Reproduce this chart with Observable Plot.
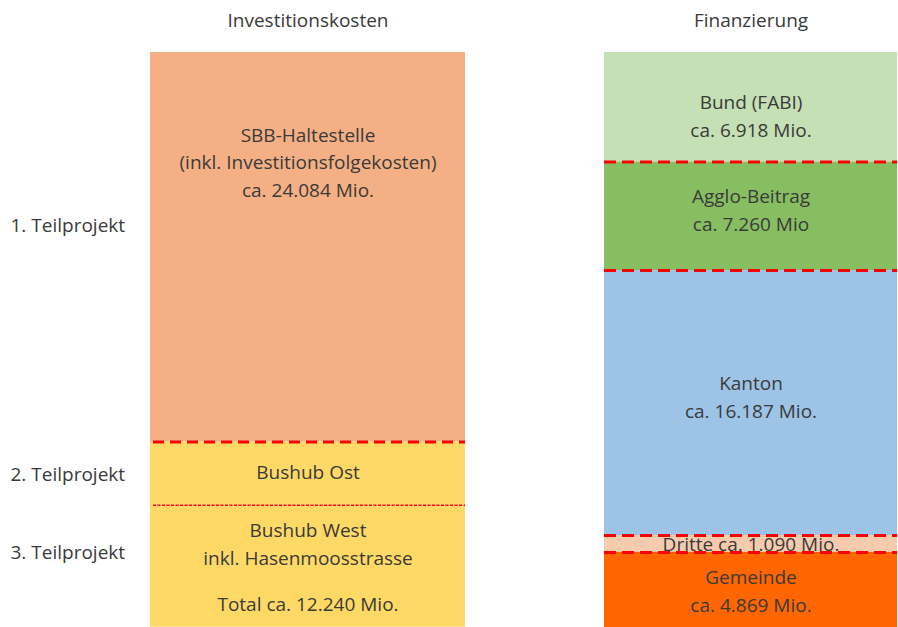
<!DOCTYPE html>
<html>
<head>
<meta charset="utf-8">
<script src="https://cdn.jsdelivr.net/npm/d3@7"></script>
<script src="https://cdn.jsdelivr.net/npm/@observablehq/plot@0.6"></script>
<style>
  html, body { margin: 0; padding: 0; background: #fff; }
  #chart svg { display: block; }
</style>
</head>
<body>
<div id="chart"></div>
<script>
// ---- data ----
const columns = ["Investitionskosten", "Finanzierung"];

const investParts = ["SBB-Haltestelle", "Bushub Ost", "Bushub West"];
const investValues = [24.6, 4.0, 7.7];
const investLabels = [
  "SBB-Haltestelle\n(inkl. Investitionsfolgekosten)\nca. 24.084 Mio.",
  "Bushub Ost",
  "Bushub West\ninkl. Hasenmoosstrasse"
];
const investTotalLabel = "Total ca. 12.240 Mio.";
const investColors = ["#F4B084", "#FFD966", "#FFD966"];

const finParts = ["Bund (FABI)", "Agglo-Beitrag", "Kanton", "Dritte", "Gemeinde"];
const finValues = [6.92, 6.85, 16.74, 1.07, 4.74];
const finLabels = [
  "Bund (FABI)\nca. 6.918 Mio.",
  "Agglo-Beitrag\nca. 7.260 Mio",
  "Kanton\nca. 16.187 Mio.",
  "Dritte ca. 1.090 Mio.",
  "Gemeinde\nca. 4.869 Mio."
];
const finColors = ["#C5E0B4", "#88BE62", "#9DC3E6", "#F8CBAD", "#FF6600"];

const rowLabels = ["1. Teilprojekt", "2. Teilprojekt", "3. Teilprojekt"];

// ---- build tables ----
function buildRows(col, parts, values, labels, colors) {
  const cum = d3.cumsum(values);
  return parts.map((p, i) => ({
    col, part: p, value: values[i],
    y1: cum[i] - values[i], y2: cum[i],
    mid: cum[i] - values[i] / 2,
    label: labels[i], color: colors[i]
  }));
}
const inv = buildRows(columns[0], investParts, investValues, investLabels, investColors);
const fin = buildRows(columns[1], finParts, finValues, finLabels, finColors);
const total = Math.max(d3.sum(investValues), d3.sum(finValues));

const font = "'Open Sans', 'Noto Sans', sans-serif";
const txt = "#3a3a3a";
const FS = 19;
const LH = 1.45;

// per-segment vertical nudges of the labels (px)
const invDy = [-87, -3, -24];
const finDy = [7, -8, -8, -2, -1];

const chart = Plot.plot({
  width: 898,
  height: 627,
  marginLeft: 149,
  marginRight: 0,
  marginTop: 52,
  marginBottom: 0,
  style: { fontFamily: font, background: "#fff" },
  x: { domain: columns, paddingInner: 0.27, paddingOuter: 0, axis: null },
  y: { domain: [0, total], reverse: true, axis: null },
  color: { type: "identity" },
  marks: [
    // bars
    Plot.barY(inv, { x: "col", y1: "y1", y2: "y2", fill: "color" }),
    Plot.barY(fin, { x: "col", y1: "y1", y2: "y2", fill: "color", insetLeft: 22 }),
    // boundaries
    Plot.tickY(inv.slice(0, 1), { x: "col", y: "y2", stroke: "#FF0000", strokeWidth: 3, strokeDasharray: "11,6", insetLeft: 3 }),
    Plot.tickY(inv.slice(1, 2), { x: "col", y: "y2", stroke: "#FF0000", strokeWidth: 1.5, strokeDasharray: "3,1.5", insetLeft: 3 }),
    Plot.tickY(fin.slice(0, -1), { x: "col", y: "y2", stroke: "#FF0000", strokeWidth: 3, strokeDasharray: "12,6", insetLeft: 22 }),
    // column titles
    Plot.text([columns[0]], { x: d => d, frameAnchor: "top", dy: -39, text: d => d, fontSize: FS, fill: txt }),
    Plot.text([columns[1]], { x: d => d, frameAnchor: "top", dy: -39, dx: 11, text: d => d, fontSize: FS, fill: txt }),
    // segment labels, left
    ...inv.map((d, i) => Plot.text([d], { x: "col", y: "mid", text: "label", dy: invDy[i], fontSize: FS, lineHeight: LH, fill: txt })),
    Plot.text(inv.slice(2, 3), { x: "col", y: "mid", text: () => investTotalLabel, dy: 39, fontSize: FS, fill: txt }),
    // segment labels, right
    ...fin.map((d, i) => Plot.text([d], { x: "col", y: "mid", text: "label", dx: 11, dy: finDy[i], fontSize: FS, lineHeight: LH, fill: txt })),
    // row labels
    Plot.text(inv.slice(0, 1), { y: "mid", text: () => rowLabels[0], frameAnchor: "left", textAnchor: "start", dx: -139, dy: -21, fontSize: FS, fill: txt }),
    Plot.text(inv.slice(1, 2), { y: "mid", text: () => rowLabels[1], frameAnchor: "left", textAnchor: "start", dx: -139, dy: 1, fontSize: FS, fill: txt }),
    Plot.text(inv.slice(2, 3), { y: "mid", text: () => rowLabels[2], frameAnchor: "left", textAnchor: "start", dx: -139, dy: -13, fontSize: FS, fill: txt })
  ]
});
document.getElementById("chart").appendChild(chart);
</script>
</body>
</html>
